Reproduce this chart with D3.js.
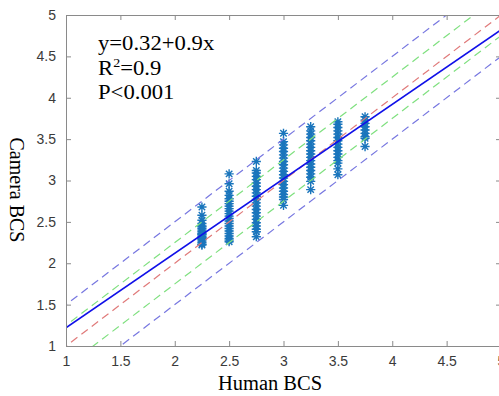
<!DOCTYPE html>
<html>
<head>
<meta charset="utf-8">
<script src="https://cdn.jsdelivr.net/npm/d3@7"></script>
<style>
  body { margin: 0; background: #fff; }
  svg { display: block; }
</style>
</head>
<body>
<svg id="chart" width="499" height="396"></svg>
<script>
// human BCS groups and the camera BCS readings at each one
var humanBCS = [2.25, 2.5, 2.75, 3, 3.25, 3.5, 3.75];
var cameraBCS = [
  [2.68, 2.58, 2.52, 2.48, 2.45, 2.42, 2.40, 2.38, 2.36, 2.34, 2.32, 2.30, 2.29, 2.27, 2.25, 2.23, 2.22, 2.35, 2.44, 2.31],
  [3.08, 2.96, 2.87, 2.82, 2.78, 2.75, 2.72, 2.69, 2.66, 2.63, 2.60, 2.57, 2.54, 2.51, 2.48, 2.45, 2.42, 2.39, 2.36, 2.33, 2.30, 2.28, 2.26],
  [3.23, 3.12, 3.09, 3.05, 3.01, 2.97, 2.93, 2.89, 2.85, 2.81, 2.77, 2.73, 2.69, 2.65, 2.61, 2.57, 2.53, 2.49, 2.45, 2.41, 2.38, 2.32],
  [3.57, 3.47, 3.43, 3.39, 3.35, 3.31, 3.27, 3.23, 3.19, 3.15, 3.11, 3.07, 3.03, 2.99, 2.95, 2.91, 2.87, 2.83, 2.80, 2.77, 2.70],
  [3.65, 3.60, 3.56, 3.52, 3.48, 3.44, 3.40, 3.36, 3.32, 3.28, 3.24, 3.20, 3.16, 3.12, 3.08, 3.04, 2.99, 2.89],
  [3.71, 3.68, 3.64, 3.60, 3.56, 3.52, 3.48, 3.44, 3.40, 3.36, 3.32, 3.28, 3.24, 3.21, 3.14, 3.07],
  [3.77, 3.73, 3.69, 3.65, 3.61, 3.57, 3.53, 3.51, 3.41]
];

// fit y = a + b*x, and the reference lines y = x + offset
var fitA = 0.32, fitB = 0.9;
var refOffsets = [0, 0.25, -0.25, 0.5, -0.5];
var refColors = ["#e07a7a", "#7fe07f", "#7fe07f", "#7777e0", "#7777e0"];

var ticks = [1, 1.5, 2, 2.5, 3, 3.5, 4, 4.5, 5];
var statsText = ["y=0.32+0.9x", "R2=0.9", "P<0.001"];

var svg = d3.select("#chart");
var mLeft = 66, mRight = 501, mTop = 15, mBottom = 346;

var x = d3.scaleLinear().domain([1, 5]).range([mLeft, mRight]);
var y = d3.scaleLinear().domain([1, 5]).range([mBottom, mTop]);

svg.append("clipPath").attr("id", "clip")
  .append("rect")
  .attr("x", mLeft).attr("y", mTop)
  .attr("width", mRight - mLeft).attr("height", mBottom - mTop);

var plot = svg.append("g").attr("clip-path", "url(#clip)");

// scatter, asterisk markers
var pts = [];
humanBCS.forEach(function(h, i) {
  cameraBCS[i].forEach(function(c) { pts.push([h, c]); });
});
var r = 4.6;
var star = "M" + (-r) + ",0H" + r + "M0," + (-r) + "V" + r +
  "M" + (-r * 0.7) + "," + (-r * 0.7) + "L" + (r * 0.7) + "," + (r * 0.7) +
  "M" + (-r * 0.7) + "," + (r * 0.7) + "L" + (r * 0.7) + "," + (-r * 0.7);
plot.selectAll("path.pt")
  .data(pts)
  .enter().append("path")
  .attr("class", "pt")
  .attr("transform", function(d) { return "translate(" + x(d[0]) + "," + y(d[1]) + ")"; })
  .attr("d", star)
  .attr("fill", "none")
  .attr("stroke", "#1a75bc")
  .attr("stroke-width", 1.4);

// dashed reference lines
var line = d3.line().x(function(d) { return x(d[0]); }).y(function(d) { return y(d[1]); });
refOffsets.forEach(function(o, i) {
  plot.append("path")
    .datum([[0, o], [6, 6 + o]])
    .attr("d", line)
    .attr("fill", "none")
    .attr("stroke", refColors[i])
    .attr("stroke-width", 1.2)
    .attr("stroke-dasharray", "8,5");
});

// regression line
plot.append("path")
  .datum([[0, fitA], [6, fitA + fitB * 6]])
  .attr("d", line)
  .attr("fill", "none")
  .attr("stroke", "#1010e8")
  .attr("stroke-width", 1.6);

// axes box with inward ticks
var axisColor = "#8a8a8a";
function styleAxis(g) {
  g.select(".domain").attr("stroke", axisColor);
  g.selectAll(".tick line").attr("stroke", axisColor);
  g.selectAll(".tick text")
    .attr("fill", "#3a3a3a")
    .style("font-family", "Arial, 'Liberation Sans', sans-serif")
    .style("font-size", "14px");
}

svg.append("g").attr("transform", "translate(0," + mBottom + ")")
  .call(d3.axisBottom(x).tickValues(ticks).tickSizeInner(-5).tickSizeOuter(0).tickPadding(10).tickFormat(d3.format("~g")))
  .call(styleAxis);
svg.append("g").attr("transform", "translate(" + mLeft + ",0)")
  .call(d3.axisLeft(y).tickValues(ticks).tickSizeInner(-5).tickSizeOuter(0).tickPadding(10).tickFormat(d3.format("~g")))
  .call(styleAxis);
svg.append("g").attr("transform", "translate(0," + mTop + ")")
  .call(d3.axisTop(x).tickValues(ticks).tickSizeInner(-5).tickSizeOuter(0).tickFormat(""))
  .call(styleAxis);
svg.append("g").attr("transform", "translate(" + mRight + ",0)")
  .call(d3.axisRight(y).tickValues(ticks).tickSizeInner(-5).tickSizeOuter(0).tickFormat(""))
  .call(styleAxis);

// axis titles
svg.append("text")
  .attr("x", 270).attr("y", 390)
  .attr("text-anchor", "middle")
  .style("font-family", "'Liberation Serif', 'Times New Roman', serif")
  .style("font-size", "20.5px")
  .text("Human BCS");

svg.append("text")
  .attr("transform", "translate(17,190) rotate(90)")
  .attr("text-anchor", "middle")
  .attr("dominant-baseline", "central")
  .style("font-family", "'Liberation Serif', 'Times New Roman', serif")
  .style("font-size", "20px")
  .text("Camera BCS");

// stats annotation
var ann = svg.append("g")
  .attr("transform", "translate(98,0) scale(1.08,1)")
  .style("font-family", "'Liberation Serif', 'Times New Roman', serif")
  .style("font-size", "21px");
ann.append("text").attr("x", 0).attr("y", 50).text(statsText[0]);
var r2 = ann.append("text").attr("x", 0).attr("y", 75);
r2.append("tspan").text("R");
r2.append("tspan").attr("dy", -8).style("font-size", "13px").text("2");
r2.append("tspan").attr("dy", 8).text("=0.9");
ann.append("text").attr("x", 0).attr("y", 99).text(statsText[2]);
</script>
</body>
</html>
